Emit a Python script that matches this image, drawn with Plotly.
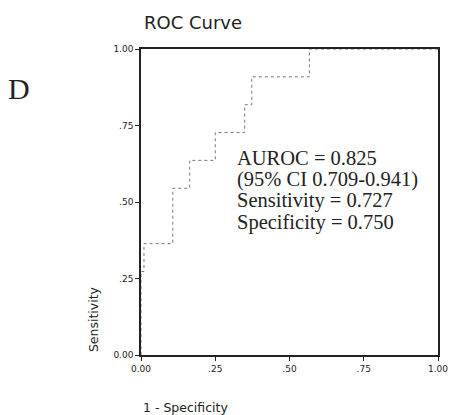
import plotly.graph_objects as go

fpr = [0, 0, 0.01, 0.01, 0.107, 0.107, 0.164, 0.164, 0.25, 0.25, 0.349, 0.349, 0.373, 0.373, 0.567, 0.567, 1.0]
tpr = [0, 0.273, 0.273, 0.364, 0.364, 0.545, 0.545, 0.636, 0.636, 0.727, 0.727, 0.818, 0.818, 0.909, 0.909, 1.0, 1.0]
tick_vals = [0, 0.25, 0.5, 0.75, 1.0]
tick_text = ["0.00", ".25", ".50", ".75", "1.00"]
stats_lines = ["AUROC = 0.825", "(95% CI 0.709-0.941)", "Sensitivity = 0.727", "Specificity = 0.750"]

fig = go.Figure()
fig.add_trace(go.Scatter(x=fpr, y=tpr, mode="lines",
                         line=dict(color="#777777", width=1, dash="dot"),
                         showlegend=False, hoverinfo="skip"))

axis_common = dict(range=[0, 1], tickvals=tick_vals, ticktext=tick_text,
                   showgrid=False, zeroline=False, showline=True, mirror=True,
                   linecolor="#222222", linewidth=1.5, ticks="outside", ticklen=4,
                   tickcolor="#222222",
                   tickfont=dict(family="DejaVu Sans", size=9, color="#222222"))
fig.update_xaxes(**axis_common)
fig.update_yaxes(**axis_common)

anns = []
for i, t in enumerate(stats_lines):
    anns.append(dict(x=0.317, y=0.645 - i * 0.0705, xref="paper", yref="paper",
                     text=t, showarrow=False, xanchor="left", yanchor="middle",
                     font=dict(family="Liberation Serif", size=20.5, color="#222222")))
anns.append(dict(x=-0.162, y=0.117, xref="paper", yref="paper", text="Sensitivity",
                 textangle=-90, showarrow=False, xanchor="center", yanchor="middle",
                 font=dict(family="DejaVu Sans", size=12.5, color="#222222")))
anns.append(dict(x=0.0, y=-0.17, xref="paper", yref="paper", text="1 - Specificity",
                 showarrow=False, xanchor="left", yanchor="middle",
                 font=dict(family="DejaVu Sans", size=12.5, color="#222222")))
anns.append(dict(x=0.002, y=1.085, xref="paper", yref="paper", text="ROC Curve",
                 showarrow=False, xanchor="left", yanchor="middle",
                 font=dict(family="DejaVu Sans", size=18, color="#222222")))
anns.append(dict(x=-0.41, y=0.87, xref="paper", yref="paper", text="D",
                 showarrow=False, xanchor="center", yanchor="middle",
                 font=dict(family="Liberation Serif", size=30, color="#222222")))

fig.update_layout(width=460, height=415, margin=dict(l=141, r=16, t=49, b=60),
                  paper_bgcolor="white", plot_bgcolor="white", annotations=anns)
fig.write_html("out.html")
